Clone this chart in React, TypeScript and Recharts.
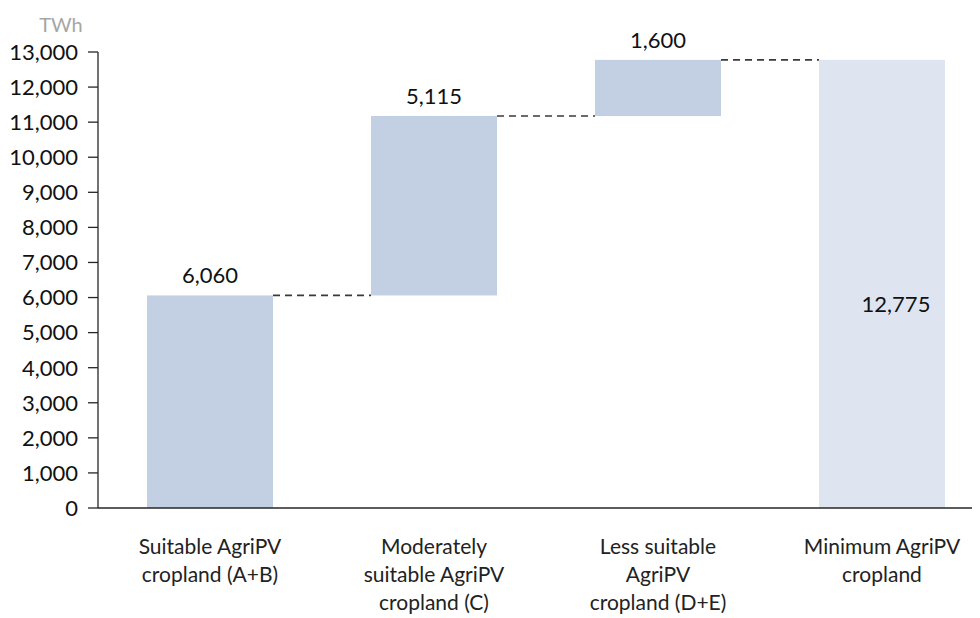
import React from "react";
import { BarChart, Bar, XAxis, YAxis, Cell, LabelList } from "recharts";

const categories = [
  "Suitable AgriPV cropland (A+B)",
  "Moderately suitable AgriPV cropland (C)",
  "Less suitable AgriPV cropland (D+E)",
  "Minimum AgriPV cropland",
];
const categoryLines = [
  ["Suitable AgriPV", "cropland (A+B)"],
  ["Moderately", "suitable AgriPV", "cropland (C)"],
  ["Less suitable", "AgriPV", "cropland (D+E)"],
  ["Minimum AgriPV", "cropland"],
];
const steps = [6060, 5115, 1600];
const total = 12775;
const yTicks = [0, 1000, 2000, 3000, 4000, 5000, 6000, 7000, 8000, 9000, 10000, 11000, 12000, 13000];

const STEP_FILL = "#c3cfe2";
const TOTAL_FILL = "#dfe5f0";
const TEXT = "#111111";
const FONT = "Lato, 'Open Sans', sans-serif";
const FS = 22;

const W = 990;
const H = 610;
const MARGIN = { top: 44, right: 4, bottom: 0, left: 0 };
const Y_AXIS_W = 90;
const BAR_SIZE = 126;
const BAND = (W - MARGIN.left - MARGIN.right - Y_AXIS_W) / categories.length;

// floating bars: each step sits on the running total, the last bar starts at zero
let running = 0;
const rows = categories.map((name, i) => {
  if (i < steps.length) {
    const low = running;
    running += steps[i];
    return { name, range: [low, running], value: steps[i], isTotal: false };
  }
  return { name, range: [0, total], value: total, isTotal: true };
});

const fmt = (v: number) => v.toLocaleString("en-US");

function WaterfallBar(props: any) {
  const { x, y, width, height, fill, index } = props;
  const showConnector = index < rows.length - 1;
  return (
    <g>
      <rect x={x} y={y} width={width} height={height} fill={fill} />
      {showConnector && (
        <line
          x1={x + width}
          x2={x + width + (BAND - BAR_SIZE)}
          y1={y}
          y2={y}
          stroke="#3a3a3a"
          strokeWidth={1.7}
          strokeDasharray="7 5"
        />
      )}
    </g>
  );
}

function ValueLabel(props: any) {
  const { x, y, width, height, index } = props;
  const row = rows[index];
  if (!row) return null;
  if (row.isTotal) {
    return (
      <text x={x + width / 2 + 14} y={y + height / 2 + 28} textAnchor="middle" fill={TEXT} fontSize={FS} fontFamily={FONT}>
        {fmt(row.value)}
      </text>
    );
  }
  return (
    <text x={x + width / 2} y={y - 12} textAnchor="middle" fill={TEXT} fontSize={FS} fontFamily={FONT}>
      {fmt(row.value)}
    </text>
  );
}

function CategoryTick(props: any) {
  const { x, y, index } = props;
  const lines = categoryLines[index] || [];
  return (
    <text x={x} y={y + 38} textAnchor="middle" fill="#222222" fontSize={21} fontFamily={FONT}>
      {lines.map((l, i) => (
        <tspan key={i} x={x} dy={i === 0 ? 0 : 28}>
          {l}
        </tspan>
      ))}
    </text>
  );
}

export default function App() {
  return (
    <div style={{ width: 972, height: H, overflow: "hidden" }}>
      <BarChart width={W} height={H} data={rows} margin={MARGIN} barSize={BAR_SIZE}>
        <XAxis
          dataKey="name"
          tickLine={false}
          axisLine={{ stroke: "#262626", strokeWidth: 1.3 }}
          height={110}
          interval={0}
          tick={<CategoryTick />}
        />
        <YAxis
          width={Y_AXIS_W}
          domain={[0, 13000]}
          ticks={yTicks}
          interval={0}
          tickFormatter={fmt}
          tickSize={10}
          tickMargin={10}
          tickLine={{ stroke: "#262626", strokeWidth: 1.3 }}
          axisLine={{ stroke: "#262626", strokeWidth: 1.3 }}
          tick={{ fill: TEXT, fontSize: FS, fontFamily: FONT }}
          label={{ value: "TWh", position: "top", offset: 20, dx: 8, fill: "#a6a6a6", fontSize: 20, fontFamily: FONT }}
        />
        <Bar dataKey="range" isAnimationActive={false} shape={<WaterfallBar />}>
          {rows.map((r, i) => (
            <Cell key={i} fill={r.isTotal ? TOTAL_FILL : STEP_FILL} />
          ))}
          <LabelList dataKey="value" content={<ValueLabel />} />
        </Bar>
      </BarChart>
    </div>
  );
}
